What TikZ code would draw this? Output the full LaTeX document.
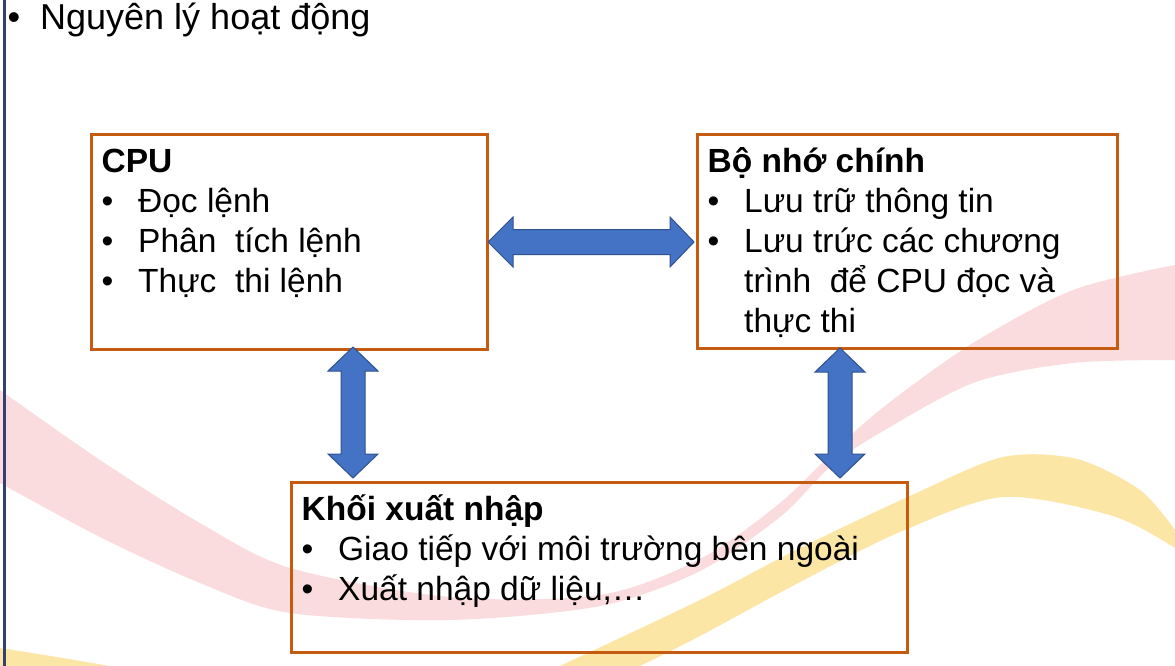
\documentclass[tikz,border=0pt]{standalone}
\usepackage{fontspec}
\setmainfont{Liberation Sans}
\usepackage{tikz}
\usetikzlibrary{positioning,calc}

\definecolor{vien}{HTML}{C55A11}
\definecolor{xanh}{HTML}{4472C4}
\definecolor{xanhdam}{HTML}{2F528F}
\definecolor{lecam}{HTML}{34416E}
\definecolor{hong}{HTML}{FADCDE}
\definecolor{vang}{HTML}{FCE6A6}

\begin{document}
\begin{tikzpicture}[x=1pt, y=-1pt,
  every node/.style={font=\fontsize{33.5}{40}\selectfont, inner sep=0pt},
  hop/.style={draw=vien, line width=3pt, anchor=north west},
  muiten/.style={fill=xanh, draw=xanhdam, line width=1pt, line join=miter}]
\useasboundingbox[fill=white] (0,0) rectangle (1175,666);
% nen
\fill[hong] plot[smooth] coordinates {(0,390) (100,460) (200,523) (290,568) (450,597) (600,595) (700,559) (780,503) (840,445) (890,402) (973,343) (1073,290) (1175,265)}
  -- plot[smooth] coordinates {(1175,360) (1073,363) (973,383) (873,437) (829,468) (780,517) (700,571) (600,606) (450,620) (290,613) (200,583) (100,537) (0,483)} -- cycle;
\fill[vang] plot[smooth] coordinates {(560,666) (700,600) (800,548) (912,495) (1003,457) (1077,459) (1140,490) (1175,530)}
  -- plot[smooth] coordinates {(1175,548) (1113,516) (1003,497) (900,532) (800,582) (700,636) (640,666)} -- cycle;
\fill[vang] (0,648) .. controls (40,654) and (80,661) .. (110,666) -- (0,666) -- cycle;
\draw[lecam, line width=3pt] (4.5,0) -- (4.5,666);

\node[anchor=base west, font=\fontsize{36}{43}\selectfont] (tieude) at (7.5,29.5) {\makebox[32.5pt][l]{\textbullet}Nguyên lý hoạt động};

\node[hop, minimum width=396pt, minimum height=215pt] (cpu) at (90,133) {};
\node[hop, minimum width=420pt, minimum height=214pt] (nho) at (696,133) {};
\node[hop, minimum width=616pt, minimum height=170pt] (khoi) at (290,481) {};

\node[anchor=base west] (cpuchu) at ([xshift=11.5pt,yshift=-39pt]cpu.north west) {\begin{tabular}[t]{@{}p{36.5pt}@{}l@{}}
\multicolumn{2}{@{}l@{}}{\bfseries CPU}\\
\textbullet & Đọc lệnh\\
\textbullet & Phân\ \ tích lệnh\\
\textbullet & Thực\ \ thi lệnh
\end{tabular}};
\node[anchor=base west] (nhochu) at ([xshift=11.5pt,yshift=-39pt]nho.north west) {\begin{tabular}[t]{@{}p{36.5pt}@{}l@{}}
\multicolumn{2}{@{}l@{}}{\bfseries Bộ nhớ chính}\\
\textbullet & Lưu trữ thông tin\\
\textbullet & Lưu trức các chương\\
 & trình\ \ để CPU đọc và\\
 & thực thi
\end{tabular}};
\node[anchor=base west] (khoichu) at ([xshift=11.5pt,yshift=-39pt]khoi.north west) {\begin{tabular}[t]{@{}p{36.5pt}@{}l@{}}
\multicolumn{2}{@{}l@{}}{\bfseries Khối xuất nhập}\\
\textbullet & Giao tiếp với môi trường bên ngoài\\
\textbullet & Xuất nhập dữ liệu,…
\end{tabular}};

% mui ten hai dau
\draw[muiten] let \p1=(cpu.east), \p2=(nho.west) in
  (\x1-1pt,\y1) -- (\x1+24pt,\y1+25pt) -- (\x1+24pt,\y1+12.5pt) -- (\x2-26pt,\y1+12.5pt) -- (\x2-26pt,\y1+25pt) -- (\x2-2pt,\y1)
  -- (\x2-26pt,\y1-25pt) -- (\x2-26pt,\y1-12.5pt) -- (\x1+24pt,\y1-12.5pt) -- (\x1+24pt,\y1-25pt) -- cycle;
\draw[muiten] let \p1=(cpu.south), \p2=(khoi.north), \p3=(353,0) in
  (\x3,\y1+4pt) -- (\x3+25pt,\y1-20pt) -- (\x3+12pt,\y1-20pt) -- (\x3+12pt,\y2+27pt) -- (\x3+25pt,\y2+27pt) -- (\x3,\y2+3pt)
  -- (\x3-25pt,\y2+27pt) -- (\x3-12pt,\y2+27pt) -- (\x3-12pt,\y1-20pt) -- (\x3-25pt,\y1-20pt) -- cycle;
\draw[muiten] let \p1=(nho.south), \p2=(khoi.north), \p3=(840,0) in
  (\x3,\y1+2pt) -- (\x3+25pt,\y1-22pt) -- (\x3+12pt,\y1-22pt) -- (\x3+12pt,\y2+27pt) -- (\x3+25pt,\y2+27pt) -- (\x3,\y2+3pt)
  -- (\x3-25pt,\y2+27pt) -- (\x3-12pt,\y2+27pt) -- (\x3-12pt,\y1-22pt) -- (\x3-25pt,\y1-22pt) -- cycle;
\end{tikzpicture}
\end{document}
